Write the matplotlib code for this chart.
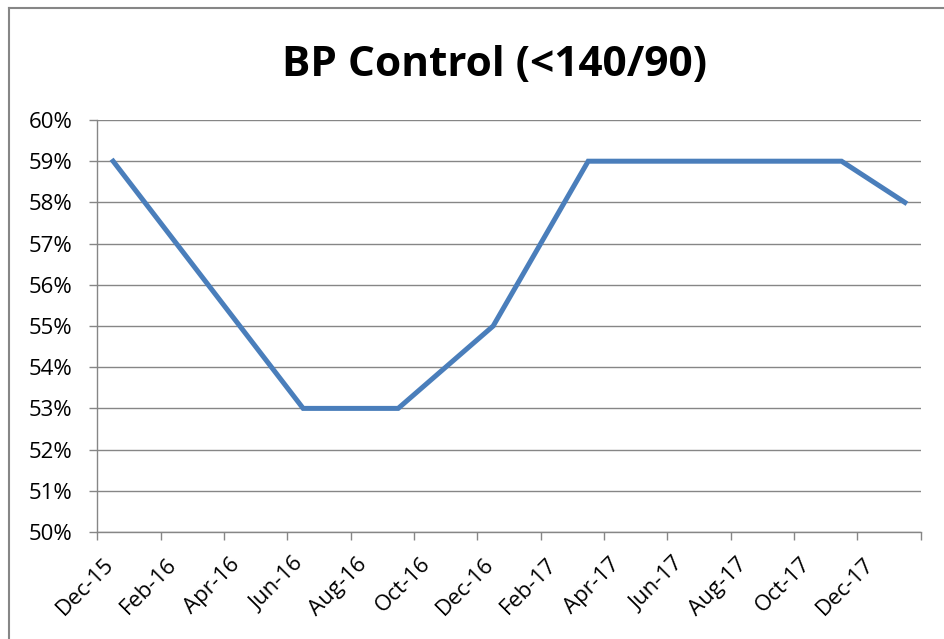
import matplotlib
matplotlib.use("Agg")
import matplotlib.pyplot as plt
import matplotlib.transforms as mtrans
import pandas as pd
from matplotlib.lines import Line2D

# ---- data ----
months = ['2015-12', '2016-03', '2016-06', '2016-09', '2016-12',
          '2017-03', '2017-06', '2017-09', '2017-11', '2018-01']
values = [59, 56, 53, 53, 55, 59, 59, 59, 59, 58]
tick_months = ['2015-12', '2016-02', '2016-04', '2016-06', '2016-08', '2016-10',
               '2016-12', '2017-02', '2017-04', '2017-06', '2017-08', '2017-10',
               '2017-12', '2018-02']
tick_labels = ['Dec-15', 'Feb-16', 'Apr-16', 'Jun-16', 'Aug-16', 'Oct-16',
               'Dec-16', 'Feb-17', 'Apr-17', 'Jun-17', 'Aug-17', 'Oct-17',
               'Dec-17', '']
yticks = [50, 51, 52, 53, 54, 55, 56, 57, 58, 59, 60]
title = 'BP Control (<140/90)'

plt.rcParams['font.family'] = ['Open Sans', 'DejaVu Sans']

start = pd.Period('2015-12', freq='M')
def midx(m):
    return (pd.Period(m, freq='M') - start).n

x = [midx(m) + 0.5 for m in months]
tx = [midx(m) for m in tick_months]

fig = plt.figure(figsize=(9.45, 6.39), dpi=100)
ax = fig.add_axes([97.3 / 945, 1 - 532 / 639, (920.7 - 97.3) / 945, (532 - 120) / 639])

ax.plot(x, values, color='#4A7EBB', lw=3.6, solid_joinstyle='miter', zorder=3,
        clip_on=False)

ax.set_xlim(tx[0], tx[-1])
ax.set_ylim(50, 60)
ax.set_yticks(yticks)
ax.set_yticklabels([f'{v}%' for v in yticks])
ax.set_xticks(tx)
ax.set_xticklabels(tick_labels, rotation=45, ha='right', va='center',
                   rotation_mode='anchor')

ax.grid(axis='y', color='#868686', lw=1.0)
ax.set_axisbelow(True)
for s in ['top', 'right']:
    ax.spines[s].set_visible(False)
for s in ['left', 'bottom']:
    ax.spines[s].set_color('#868686')
    ax.spines[s].set_linewidth(1.0)
ax.tick_params(axis='both', colors='#868686', labelcolor='black', labelsize=16,
               length=6, width=1.0)
ax.tick_params(axis='y', pad=12)
ax.tick_params(axis='x', pad=15)

offset = mtrans.ScaledTranslation(13 / 100, 0, fig.dpi_scale_trans)
for lab in ax.get_xticklabels():
    lab.set_transform(lab.get_transform() + offset)

fig.text(495 / 945, 1 - 66 / 639, title, ha='center', va='center',
         fontsize=30.5, fontweight='bold')

# outer chart border
fig.add_artist(Line2D([9.5 / 945, 9.5 / 945], [0, 1 - 8 / 639],
                      transform=fig.transFigure, color='#868686', lw=1.5))
fig.add_artist(Line2D([9.5 / 945, 1], [1 - 8 / 639, 1 - 8 / 639],
                      transform=fig.transFigure, color='#868686', lw=1.5))

fig.savefig('out.png', dpi=100)
